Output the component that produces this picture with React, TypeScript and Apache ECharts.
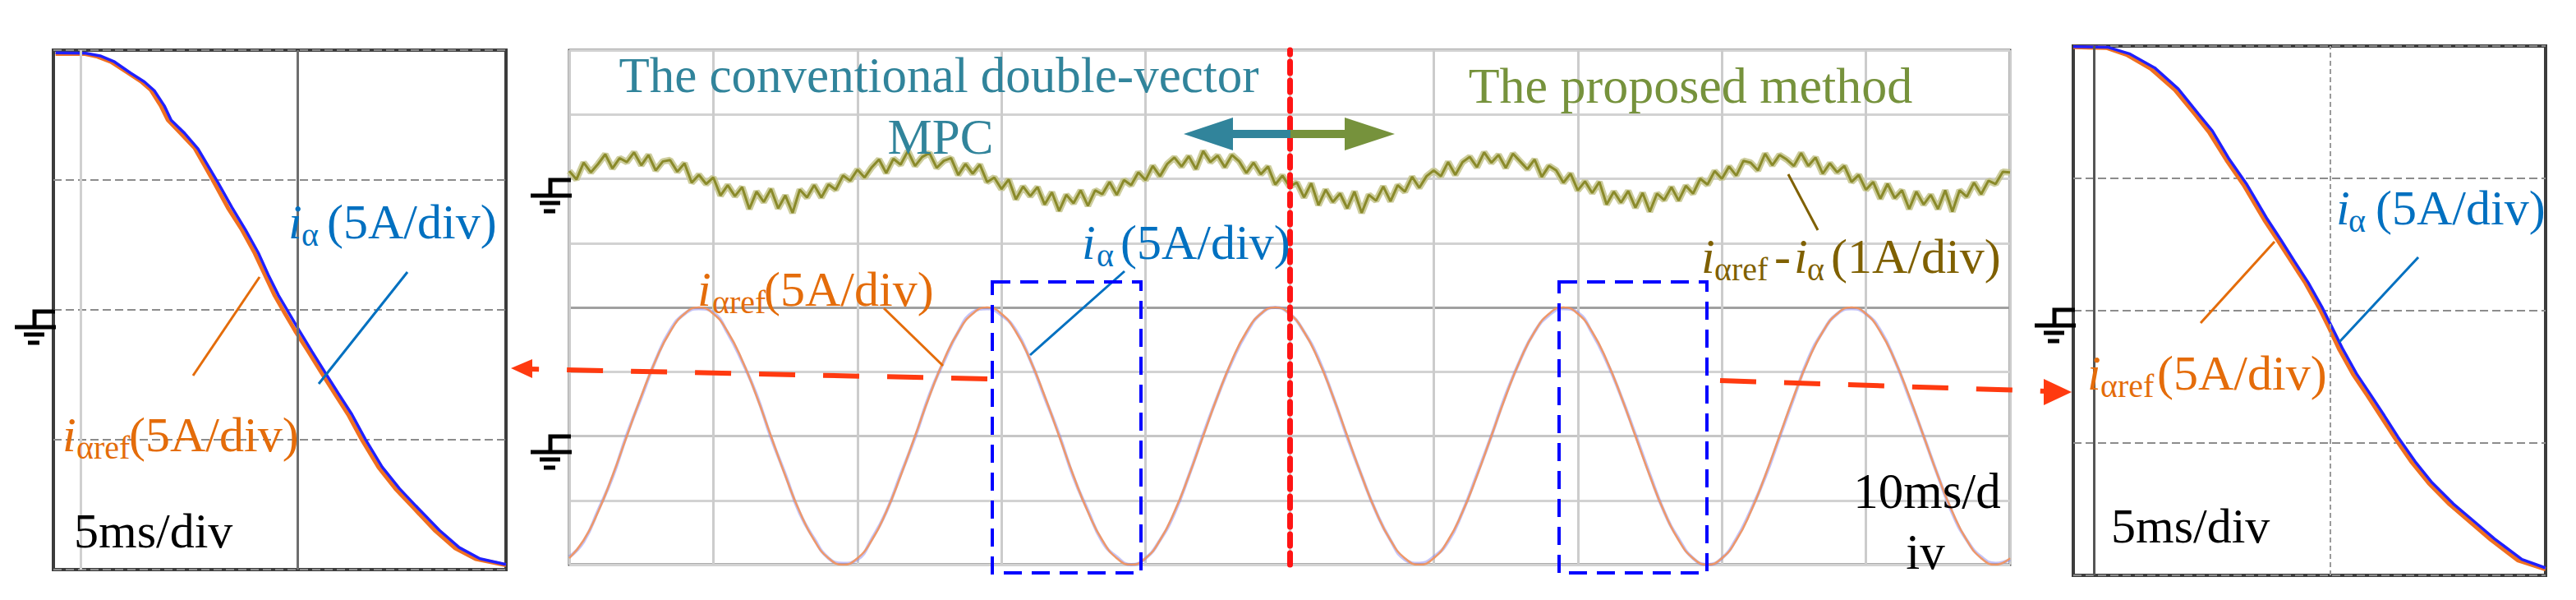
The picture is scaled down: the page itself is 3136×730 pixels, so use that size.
import React, { useEffect, useRef } from "react";
import * as echarts from "echarts";

// ---------- data ----------
const CENTER_STEP_MS = 1; // sampling of the 5A/div currents (10 ms/div screen, 0..100 ms)
const ERROR_STEP_MS = 0.5; // sampling of the 1A/div error trace

const centerIref = [
  -9.5, -8.1, -5.9, -3.1, 0, 3.1, 5.9, 8.1, 9.5, 10, 9.5, 8.1, 5.9, 3.1, 0, -3.1, -5.9, -8.1, -9.5, -10,
  -9.5, -8.1, -5.9, -3.1, 0, 3.1, 5.9, 8.1, 9.5, 10, 9.5, 8.1, 5.9, 3.1, 0, -3.1, -5.9, -8.1, -9.5, -10,
  -9.5, -8.1, -5.9, -3.1, 0, 3.1, 5.9, 8.1, 9.5, 10, 9.5, 8.1, 5.9, 3.1, 0, -3.1, -5.9, -8.1, -9.5, -10,
  -9.5, -8.1, -5.9, -3.1, 0, 3.1, 5.9, 8.1, 9.5, 10, 9.5, 8.1, 5.9, 3.1, 0, -3.1, -5.9, -8.1, -9.5, -10,
  -9.5, -8.1, -5.9, -3.1, 0, 3.1, 5.9, 8.1, 9.5, 10, 9.5, 8.1, 5.9, 3.1, 0, -3.1, -5.9, -8.1, -9.5, -10,
  -9.5,
];
const centerIalpha = [
  -9.4, -8.2, -5.8, -3.2, 0.1, 3.0, 5.9, 8.2, 9.5, 9.9, 9.6, 8.0, 5.8, 3.2, -0.1, -3.0, -6.0, -8.0, -9.5, -9.9,
  -9.6, -8.0, -5.9, -3.0, -0.1, 3.2, 5.8, 8.1, 9.6, 9.9, 9.4, 8.2, 5.9, 3.0, 0.1, -3.2, -5.8, -8.2, -9.4, -10,
  -9.5, -8.1, -6.0, -3.1, 0.1, 3.1, 5.8, 8.0, 9.5, 10, 9.5, 8.1, 6.0, 3.1, -0.1, -3.1, -5.9, -8.1, -9.6, -9.9,
  -9.4, -8.2, -5.9, -3.0, 0, 3.2, 5.9, 8.1, 9.4, 9.9, 9.6, 8.0, 5.8, 3.1, 0.1, -3.0, -5.9, -8.0, -9.5, -10,
  -9.5, -8.0, -5.8, -3.2, -0.1, 3.0, 6.0, 8.1, 9.5, 9.9, 9.5, 8.2, 5.9, 3.0, 0, -3.1, -6.0, -8.1, -9.4, -9.9,
  -9.6,
];
const centerError = [
  0.12, -0.01, 0.25, 0.10, 0.23, 0.38, 0.16, 0.32, 0.26, 0.41, 0.21, 0.37, 0.13, 0.27, 0.29, 0.11, 0.24, -0.06, 0.06, -0.08,
  0.02, -0.26, -0.10, -0.27, -0.13, -0.47, -0.20, -0.36, -0.16, -0.46, -0.26, -0.53, -0.17, -0.29, -0.10, -0.29, -0.09, -0.17, 0.05, -0.03,
  0.14, 0.02, 0.18, 0.30, 0.09, 0.31, 0.22, 0.43, 0.20, 0.34, 0.40, 0.17, 0.28, 0.32, 0.06, 0.23, 0.08, 0.22, -0.05, 0.02,
  -0.16, -0.01, -0.32, -0.12, -0.27, -0.13, -0.40, -0.21, -0.50, -0.25, -0.38, -0.18, -0.42, -0.18, -0.24, -0.05, -0.25, -0.02, -0.10, 0.10,
  -0.02, 0.20, 0.04, 0.23, 0.33, 0.19, 0.35, 0.15, 0.43, 0.26, 0.36, 0.18, 0.37, 0.27, 0.09, 0.25, 0.07, 0.19, -0.09, 0.05,
  -0.12, -0.06, -0.29, -0.07, -0.41, -0.17, -0.36, -0.23, -0.46, -0.20, -0.53, -0.25, -0.34, -0.12, -0.35, -0.10, -0.20, 0.03, -0.14, 0.04,
  0.13, 0.04, 0.26, 0.06, 0.26, 0.34, 0.18, 0.41, 0.25, 0.37, 0.17, 0.39, 0.27, 0.15, 0.30, 0.03, 0.20, 0.13, -0.06, 0.08,
  -0.18, -0.04, -0.22, -0.05, -0.40, -0.20, -0.37, -0.19, -0.45, -0.22, -0.51, -0.23, -0.33, -0.13, -0.34, -0.11, -0.23, 0.00, -0.09, 0.12,
  0.00, 0.19, 0.05, 0.28, 0.25, 0.13, 0.39, 0.21, 0.37, 0.30, 0.20, 0.40, 0.20, 0.33, 0.08, 0.24, 0.10, 0.20, -0.05, 0.06,
  -0.17, -0.05, -0.31, -0.08, -0.30, -0.18, -0.47, -0.20, -0.40, -0.25, -0.47, -0.18, -0.51, -0.18, -0.28, -0.06, -0.24, -0.03, -0.08, 0.11,
  0.10,
];

// left zoom panel (5 ms/div, 5 A/div)
const leftRefT = [-0.58, 0.08, 0.39, 0.70, 1.08, 1.39, 1.62, 1.85, 2.01, 2.32, 2.63, 2.86, 3.09, 3.40, 3.71, 4.02, 4.25, 4.48, 4.71, 4.95, 5.26, 5.56, 5.87, 6.18, 6.49, 6.88, 7.27, 7.65, 8.19, 8.65, 9.12, 9.82];
const leftRefI = [9.86, 9.86, 9.75, 9.55, 9.14, 8.80, 8.47, 7.86, 7.32, 6.78, 6.23, 5.56, 4.88, 3.93, 3.12, 2.18, 1.36, 0.55, -0.12, -0.80, -1.61, -2.42, -3.23, -4.04, -4.99, -6.07, -6.89, -7.56, -8.51, -9.18, -9.59, -9.83];
const leftAlphaT = [-0.58, 0.12, 0.45, 0.78, 1.15, 1.47, 1.70, 1.93, 2.09, 2.40, 2.71, 2.94, 3.17, 3.49, 3.80, 4.10, 4.33, 4.57, 4.80, 5.04, 5.34, 5.64, 5.95, 6.26, 6.57, 6.96, 7.36, 7.74, 8.28, 8.74, 9.22, 9.82];
const leftAlphaI = [9.90, 9.88, 9.78, 9.55, 9.12, 8.78, 8.44, 7.86, 7.30, 6.80, 6.20, 5.55, 4.90, 3.95, 3.10, 2.20, 1.35, 0.55, -0.10, -0.78, -1.60, -2.40, -3.22, -4.02, -4.97, -6.05, -6.88, -7.55, -8.48, -9.15, -9.58, -9.80];

// right zoom panel (5 ms/div, 5 A/div)
const rightRefT = [-0.44, 0.26, 0.69, 1.20, 1.71, 2.14, 2.43, 2.80, 3.16, 3.60, 3.89, 4.18, 4.47, 4.76, 4.98, 5.19, 5.48, 5.78, 6.07, 6.36, 6.72, 7.08, 7.52, 7.95, 8.39, 8.97, 9.55];
const rightRefI = [9.96, 9.93, 9.67, 9.14, 8.34, 7.41, 6.75, 5.69, 4.76, 3.43, 2.64, 1.84, 1.04, 0.11, -0.68, -1.48, -2.41, -3.20, -4.00, -4.80, -5.73, -6.52, -7.32, -7.98, -8.65, -9.44, -9.77];
const rightAlphaT = [-0.44, 0.30, 0.76, 1.28, 1.78, 2.20, 2.50, 2.86, 3.22, 3.66, 3.95, 4.24, 4.53, 4.82, 5.04, 5.26, 5.55, 5.85, 6.14, 6.43, 6.79, 7.15, 7.60, 8.03, 8.47, 9.05, 9.55];
const rightAlphaI = [9.98, 9.95, 9.70, 9.18, 8.38, 7.45, 6.80, 5.72, 4.80, 3.47, 2.68, 1.86, 1.06, 0.14, -0.65, -1.45, -2.38, -3.18, -3.97, -4.78, -5.70, -6.50, -7.30, -7.95, -8.62, -9.40, -9.72];

// ---------- styling ----------
const SERIF = '"Liberation Serif", "Times New Roman", Times, serif';
const C_ORANGE = "#e46c0a";
const C_BLUE = "#0070c0";
const C_OLIVE_LBL = "#7f6000";
const C_TEAL = "#31849b";
const C_GREEN = "#76923c";
const LBL = 60;
const SUB = 40;

const zip = (a: number[], b: number[]) => a.map((v, i) => [v, b[i]]);
const timed = (vals: number[], step: number) => vals.map((v, i) => [i * step, v]);

function txt(text: string, x: number, baseline: number, size: number, color: string, extra: any = {}) {
  const align = extra.align || "left";
  return {
    type: "text",
    z: 100,
    x,
    y: baseline - 0.34 * size,
    style: {
      text,
      x: 0,
      y: 0,
      fill: color,
      fontSize: size,
      fontFamily: SERIF,
      fontStyle: extra.italic ? "italic" : "normal",
      align,
      verticalAlign: "middle",
      textAlign: align,
      textVerticalAlign: "middle",
    },
  };
}
function seg(x1: number, y1: number, x2: number, y2: number, color: string, w: number, dash?: number[]) {
  return {
    type: "line",
    z: 100,
    shape: { x1, y1, x2, y2 },
    style: { stroke: color, lineWidth: w, lineDash: dash || null, lineCap: "butt" },
  };
}
function poly(points: number[][], color: string) {
  return { type: "polygon", z: 100, shape: { points }, style: { fill: color } };
}
function ground(edgeX: number, zeroY: number) {
  // oscilloscope channel ground marker drawn to the left of a panel frame
  const g: any[] = [];
  g.push({
    type: "polyline",
    z: 100,
    shape: { points: [[edgeX + 2, zeroY + 1], [edgeX - 23, zeroY + 1], [edgeX - 23, zeroY + 20]] },
    style: { stroke: "#000", lineWidth: 5, fill: "none" },
  });
  g.push(seg(edgeX - 47, zeroY + 20, edgeX + 3, zeroY + 20, "#000", 5));
  g.push(seg(edgeX - 36, zeroY + 29, edgeX - 11, zeroY + 29, "#000", 5));
  g.push(seg(edgeX - 31, zeroY + 39, edgeX - 17, zeroY + 39, "#000", 5));
  return g;
}
function currentLabel(x: number, baseline: number, sub: string, rest: string, color: string, subX: number, restX: number) {
  return [
    txt("i", x, baseline, LBL, color, { italic: true }),
    txt(sub, subX, baseline + 9, SUB, color),
    txt(rest, restX, baseline, LBL, color),
  ];
}

export default function App() {
  const ref = useRef<HTMLDivElement>(null);
  useEffect(() => {
    document.body.style.margin = "0";
    const chart = echarts.init(ref.current!, undefined, { renderer: "svg" });

    const hidden = { axisLine: { show: false }, axisTick: { show: false }, axisLabel: { show: false } };
    const sideVLines = (darkAtZero: boolean) => ({
      silent: true,
      symbol: ["none", "none"],
      label: { show: false },
      data: [
        { xAxis: 0, lineStyle: darkAtZero ? { color: "#555", width: 3, type: "solid" } : { color: "#d0d0d0", width: 3, type: "solid" } },
        { xAxis: 5, lineStyle: darkAtZero ? { color: "#9a9a9a", width: 2, type: [6, 4] } : { color: "#6e6e6e", width: 3, type: "solid" } },
      ],
    });

    const graphics: any[] = [];
    // titles
    graphics.push(txt("The conventional double-vector", 1143, 112, 61, C_TEAL, { align: "center" }));
    graphics.push(txt("MPC", 1145, 187, 61, C_TEAL, { align: "center" }));
    graphics.push(txt("The proposed method", 2058, 125, 62, C_GREEN, { align: "center" }));
    // direction arrows
    graphics.push({ type: "rect", z: 99, shape: { x: 1495, y: 158, width: 76, height: 10 }, style: { fill: C_TEAL } });
    graphics.push(poly([[1441, 163], [1501, 143], [1501, 183]], C_TEAL));
    graphics.push({ type: "rect", z: 99, shape: { x: 1571, y: 158, width: 70, height: 10 }, style: { fill: C_GREEN } });
    graphics.push(poly([[1698, 163], [1637, 143], [1637, 183]], C_GREEN));
    // center labels
    graphics.push(...currentLabel(849, 372, "\u03b1ref", "(5A/div)", C_ORANGE, 867, 930));
    graphics.push(seg(1076, 375, 1148, 445, C_ORANGE, 3));
    graphics.push(...currentLabel(1317, 315, "\u03b1", "(5A/div)", C_BLUE, 1335, 1364));
    graphics.push(seg(1369, 330, 1254, 432, C_BLUE, 3));
    graphics.push(txt("i", 2071, 332, LBL, C_OLIVE_LBL, { italic: true }));
    graphics.push(txt("\u03b1ref", 2087, 341, SUB, C_OLIVE_LBL));
    graphics.push(txt("-", 2160, 332, LBL, C_OLIVE_LBL));
    graphics.push(txt("i", 2184, 332, LBL, C_OLIVE_LBL, { italic: true }));
    graphics.push(txt("\u03b1", 2200, 341, SUB, C_OLIVE_LBL));
    graphics.push(txt("(1A/div)", 2229, 332, LBL, C_OLIVE_LBL));
    graphics.push(seg(2177, 212, 2213, 280, C_OLIVE_LBL, 3));
    graphics.push(txt("10ms/d", 2346, 618, 61, "#000", { align: "center" }));
    graphics.push(txt("iv", 2344, 692, 61, "#000", { align: "center" }));
    // zoom windows
    graphics.push({ type: "rect", z: 101, shape: { x: 1208, y: 343, width: 181, height: 354 }, style: { fill: "none", stroke: "#0000ff", lineWidth: 4, lineDash: [22, 12] } });
    graphics.push({ type: "rect", z: 101, shape: { x: 1898, y: 343, width: 180, height: 354 }, style: { fill: "none", stroke: "#0000ff", lineWidth: 4, lineDash: [22, 12] } });
    // red dashed pointers
    graphics.push(seg(1202, 461, 646, 449, "#ff3a10", 6, [44, 34]));
    graphics.push(poly([[622, 448], [648, 437], [648, 460]], "#ff3a10"));
    graphics.push(seg(2094, 463, 2492, 476, "#ff3a10", 6, [44, 34]));
    graphics.push(poly([[2522, 477], [2488, 461], [2488, 493]], "#ff3a10"));
    // left panel labels
    graphics.push(...currentLabel(351, 290, "\u03b1", "(5A/div)", C_BLUE, 367, 398));
    graphics.push(seg(496, 331, 388, 467, C_BLUE, 3));
    graphics.push(...currentLabel(76, 549, "\u03b1ref", "(5A/div)", C_ORANGE, 93, 157));
    graphics.push(seg(316, 337, 235, 457, C_ORANGE, 3));
    graphics.push(txt("5ms/div", 90, 666, 60, "#000"));
    // right panel labels
    graphics.push(...currentLabel(2844, 273, "\u03b1", "(5A/div)", C_BLUE, 2859, 2892));
    graphics.push(seg(2944, 313, 2848, 416, C_BLUE, 3));
    graphics.push(...currentLabel(2541, 474, "\u03b1ref", "(5A/div)", C_ORANGE, 2557, 2626));
    graphics.push(seg(2769, 294, 2679, 393, C_ORANGE, 3));
    graphics.push(txt("5ms/div", 2570, 660, 60, "#000"));
    // ground markers
    graphics.push(...ground(65, 378));
    graphics.push(...ground(693, 218));
    graphics.push(...ground(693, 530));
    graphics.push(...ground(2524, 376));

    const gridColors = ["#d2d2d2", "#d2d2d2", "#c6c6c6", "#d2d2d2", "#a0a0a0", "#d2d2d2", "#d2d2d2", "#d2d2d2", "#d2d2d2"];

    chart.setOption({
      animation: false,
      backgroundColor: "#ffffff",
      grid: [
        { left: 65, top: 61, width: 551, height: 632, show: true, borderColor: "#3c3c3c", borderWidth: 4, backgroundColor: "#fff" },
        { left: 693, top: 61, width: 1754, height: 626, show: true, borderColor: "#5a5a5a", borderWidth: 3, backgroundColor: "#fff" },
        { left: 2524, top: 56, width: 575, height: 644, show: true, borderColor: "#3c3c3c", borderWidth: 4, backgroundColor: "#fff" },
      ],
      xAxis: [
        { gridIndex: 0, type: "value", min: -0.63, max: 9.82, show: false },
        {
          gridIndex: 1, type: "value", min: 0, max: 100, interval: 10, ...hidden,
          splitLine: { show: true, lineStyle: { color: "#cccccc", width: 3 } },
        },
        { gridIndex: 2, type: "value", min: -0.44, max: 9.55, show: false },
      ],
      yAxis: [
        {
          gridIndex: 0, type: "value", min: -10, max: 10, interval: 5, ...hidden,
          splitLine: { show: true, lineStyle: { color: "#8c8c8c", width: 2, type: [10, 5] } },
        },
        {
          gridIndex: 1, type: "value", min: -10, max: 30, interval: 5, ...hidden,
          splitLine: { show: true, lineStyle: { color: gridColors, width: 3 } },
        },
        { gridIndex: 1, type: "value", min: -6, max: 2, show: false },
        {
          gridIndex: 2, type: "value", min: -10, max: 10, interval: 5, ...hidden,
          splitLine: { show: true, lineStyle: { color: "#8c8c8c", width: 2, type: [10, 5] } },
        },
      ],
      series: [
        {
          name: "left iαref", type: "line", xAxisIndex: 0, yAxisIndex: 0, data: zip(leftRefT, leftRefI),
          symbol: "none", lineStyle: { color: "#f07020", width: 5 }, z: 3, markLine: sideVLines(false),
        },
        {
          name: "left iα", type: "line", xAxisIndex: 0, yAxisIndex: 0, data: zip(leftAlphaT, leftAlphaI),
          symbol: "none", lineStyle: { color: "#2020ff", width: 3.5 }, z: 4,
        },
        {
          name: "iαref - iα band", type: "line", xAxisIndex: 1, yAxisIndex: 2, data: timed(centerError, ERROR_STEP_MS),
          symbol: "none", lineStyle: { color: "#c4c48c", width: 8, opacity: 0.85 }, z: 2,
        },
        {
          name: "iαref - iα", type: "line", xAxisIndex: 1, yAxisIndex: 2, data: timed(centerError, ERROR_STEP_MS),
          symbol: "none", lineStyle: { color: "#8a8a2a", width: 3 }, z: 3,
        },
        {
          name: "iα", type: "line", xAxisIndex: 1, yAxisIndex: 1, data: timed(centerIalpha, CENTER_STEP_MS),
          symbol: "none", smooth: true, lineStyle: { color: "#7a7af0", width: 4, opacity: 0.45 }, z: 3,
        },
        {
          name: "iαref", type: "line", xAxisIndex: 1, yAxisIndex: 1, data: timed(centerIref, CENTER_STEP_MS),
          symbol: "none", smooth: true, lineStyle: { color: "#f3935a", width: 2.5, opacity: 0.9 }, z: 4,
          markLine: {
            silent: true, symbol: ["none", "none"], label: { show: false },
            data: [{ xAxis: 50 }],
            lineStyle: { color: "#ff1414", width: 7, type: [14, 9], cap: "round" },
          },
        },
        {
          name: "right iαref", type: "line", xAxisIndex: 2, yAxisIndex: 3, data: zip(rightRefT, rightRefI),
          symbol: "none", lineStyle: { color: "#f07020", width: 5 }, z: 3, markLine: sideVLines(true),
        },
        {
          name: "right iα", type: "line", xAxisIndex: 2, yAxisIndex: 3, data: zip(rightAlphaT, rightAlphaI),
          symbol: "none", lineStyle: { color: "#2020ff", width: 3.5 }, z: 4,
        },
      ],
      graphic: graphics,
    });
    return () => chart.dispose();
  }, []);
  return <div ref={ref} style={{ position: "fixed", left: 0, top: 0, width: 3136, height: 730, background: "#fff" }} />;
}
